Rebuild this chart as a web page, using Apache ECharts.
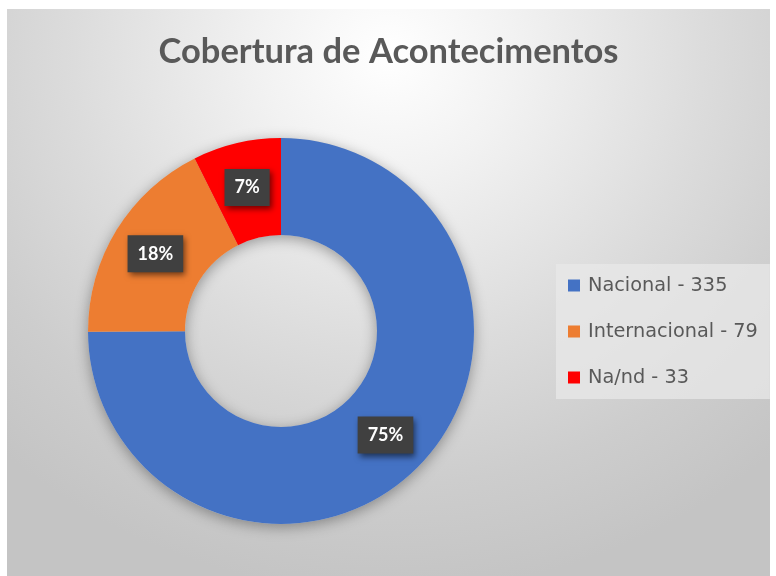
<!DOCTYPE html>
<html>
<head>
<meta charset="utf-8">
<script src="https://cdn.jsdelivr.net/npm/echarts@6/dist/echarts.min.js"></script>
<style>
html,body{margin:0;padding:0;background:#ffffff;width:776px;height:576px;overflow:hidden;}
#chart{position:absolute;left:7px;top:9px;width:763px;height:567px;
background:radial-gradient(ellipse 75% 95% at 50% 8%, #ffffff 0%, #f2f2f2 22%, #dcdcdc 55%, #cdcdcd 80%, #c4c4c4 100%);}
</style>
</head>
<body>
<div id="chart"></div>
<script>
var titleText = 'Cobertura de Acontecimentos';
var categories = ['Nacional', 'Internacional', 'Na/nd'];
var values = [335, 79, 33];
var colors = ['#4472C4', '#ED7D31', '#FF0000'];

var chart = echarts.init(document.getElementById('chart'), null, {renderer:'canvas'});
var valueByName = {};
categories.forEach(function(c,i){ valueByName[c] = values[i]; });
var total = values.reduce(function(a,b){return a+b;},0);

var FONT = 'Lato';
var option = {
  animation: false,
  title: {
    text: titleText,
    left: 'center',
    top: 20,
    padding: [5, 0, 5, 12],
    textStyle: {fontFamily: FONT, fontSize: 34.5, fontWeight: 'bold', color: '#595959'}
  },
  legend: {
    orient: 'vertical',
    left: 549,
    top: 255,
    data: categories,
    icon: 'rect',
    itemWidth: 12,
    itemHeight: 12,
    itemGap: 27,
    padding: [12, 12, 12, 12],
    backgroundColor: 'rgba(232,232,232,0.75)',
    formatter: function(name){ return name + ' - ' + valueByName[name]; },
    textStyle: {fontFamily: 'DejaVu Sans', fontSize: 19.3, color: '#595959', lineHeight: 18, padding: [0,0,0,3]}
  },
  series: [
    {
      type: 'pie',
      silent: true,
      center: [274, 322],
      radius: [96, 193],
      startAngle: 90,
      clockwise: true,
      label: {show: false},
      labelLine: {show: false},
      itemStyle: {color: '#cfcfcf', shadowBlur: 14, shadowColor: 'rgba(0,0,0,0.35)', shadowOffsetY: 3},
      data: [{value: total, name: '_ring'}],
      legendHoverLink: false
    },
    {
      type: 'pie',
      center: [274, 322],
      radius: [96, 193],
      startAngle: 90,
      clockwise: true,
      percentPrecision: 0,
      avoidLabelOverlap: false,
      label: {
        show: true,
        position: 'inside',
        formatter: '{d}%',
        fontFamily: FONT,
        fontSize: 18,
        fontWeight: 'bold',
        color: '#ffffff',
        backgroundColor: '#404040',
        padding: [10, 10, 9, 10],
        shadowBlur: 6,
        shadowColor: 'rgba(0,0,0,0.55)',
        shadowOffsetX: 2,
        shadowOffsetY: 3
      },
      labelLine: {show: false},
      itemStyle: {borderWidth: 0},
      emphasis: {disabled: true},
      data: categories.map(function(c,i){ return {name: c, value: values[i], itemStyle: {color: colors[i]}}; })
    }
  ]
};
chart.setOption(option);
</script>
</body>
</html>
